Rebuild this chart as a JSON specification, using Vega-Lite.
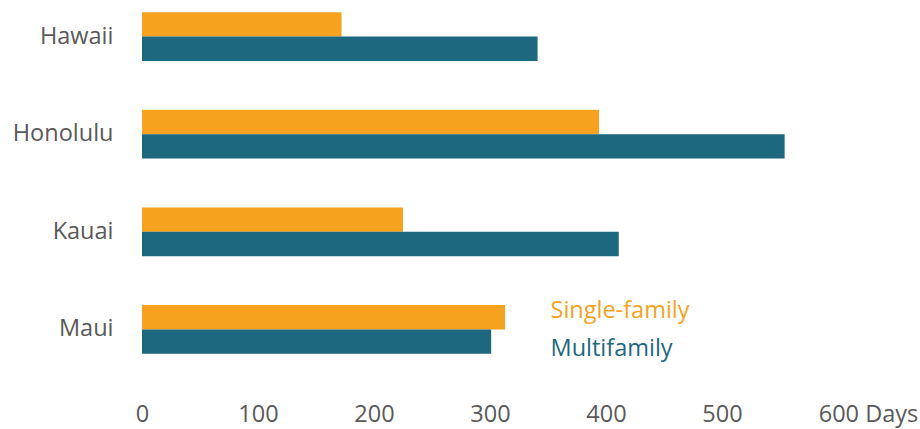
{
  "$schema": "https://vega.github.io/schema/vega-lite/v6.json",
  "autosize": {"type": "none"},
  "padding": {"left": 142, "top": 0, "right": 82, "bottom": 63},
  "width": 696,
  "height": 366,
  "background": "white",
  "config": {
    "view": {"stroke": null},
    "font": "Open Sans",
    "axis": {"grid": false, "domain": false, "ticks": false, "labelFont": "Open Sans", "labelFontSize": 23.5, "labelColor": "#595959", "title": null}
  },
  "data": {
    "values": [
      {"city": "Hawaii", "type": "Single-family", "days": 172},
      {"city": "Hawaii", "type": "Multifamily", "days": 341},
      {"city": "Honolulu", "type": "Single-family", "days": 394},
      {"city": "Honolulu", "type": "Multifamily", "days": 554},
      {"city": "Kauai", "type": "Single-family", "days": 225},
      {"city": "Kauai", "type": "Multifamily", "days": 411},
      {"city": "Maui", "type": "Single-family", "days": 313},
      {"city": "Maui", "type": "Multifamily", "days": 301}
    ]
  },
  "mark": {"type": "bar"},
  "encoding": {
    "y": {
      "field": "city", "type": "nominal", "sort": null,
      "scale": {"paddingInner": 0.5, "paddingOuter": 0.125},
      "axis": {"labelPadding": 29}
    },
    "yOffset": {"field": "type", "type": "nominal", "sort": ["Single-family", "Multifamily"], "scale": {"paddingInner": 0, "paddingOuter": 0}},
    "x": {
      "field": "days", "type": "quantitative",
      "scale": {"domain": [0, 600], "nice": false},
      "axis": {
        "values": [0, 100, 200, 300, 400, 500, 600],
        "labelPadding": 36,
        "labelFlush": false,
        "labelOverlap": false,
        "labelExpr": "datum.value == 600 ? '600 Days' : datum.label",
        "labelOffset": {"expr": "datum.value == 600 ? 30 : 0"}
      }
    },
    "color": {
      "field": "type", "type": "nominal",
      "scale": {"domain": ["Single-family", "Multifamily"], "range": ["#F6A21E", "#1D677F"]},
      "legend": {
        "title": null,
        "orient": "none",
        "legendX": 385,
        "legendY": 299,
        "symbolSize": 0,
        "symbolOpacity": 0,
        "symbolStrokeWidth": 0,
        "labelOffset": 0,
        "labelFont": "Open Sans",
        "labelFontSize": 23.5,
        "rowPadding": 13,
        "labelLimit": 300,
        "encode": {"labels": {"update": {"fill": {"signal": "scale('color', datum.value)"}}}}
      }
    }
  }
}
